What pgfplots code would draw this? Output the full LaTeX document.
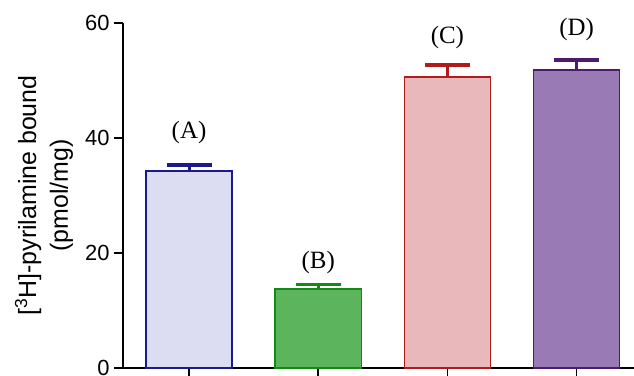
\documentclass[border=0pt]{standalone}
\usepackage{pgfplots}
\pgfplotsset{compat=1.18}
\usepackage{fontspec}
\setmainfont{Liberation Sans}
\newfontfamily\tnr{Liberation Serif}
\definecolor{aedge}{HTML}{1A1A8C}
\definecolor{afill}{HTML}{DCDCF2}
\definecolor{bedge}{HTML}{138A13}
\definecolor{bfill}{HTML}{5CB45C}
\definecolor{cedge}{HTML}{B01C1C}
\definecolor{cfill}{HTML}{E8B8BB}
\definecolor{dedge}{HTML}{4D1A6E}
\definecolor{dfill}{HTML}{9A7AB5}
\begin{document}
\begin{tikzpicture}[x=1bp,y=1bp]
\path[use as bounding box] (0,0) rectangle (634,375);
\begin{axis}[
  at={(123bp,7bp)}, anchor=south west,
  scale only axis, width=511bp, height=345bp,
  xmin=-0.511, xmax=3.444, ymin=0, ymax=60,
  axis lines=left,
  axis line style={-, black, line width=1.5bp},
  tick align=outside,
  major tick length=9bp,
  tick style={black, line width=1.5bp},
  xtick={0,1,2,3}, xticklabels={},
  ytick={0,20,40,60},
  /pgf/number format/assume math mode=true,
  yticklabel style={font=\fontsize{22}{26}\selectfont, xshift=-1bp},
  ylabel={[\textsuperscript{3}H]-pyrilamine bound\\(pmol/mg)},
  ylabel style={font=\fontsize{25}{32}\selectfont, align=center, at={(axis description cs:-0.1546,0.5)}, anchor=center},
  ybar, bar width=0.666, bar shift=0pt,
  error bars/y dir=plus, error bars/y explicit,
  clip=false,
]
\addplot[draw=aedge, fill=afill, line width=1.5bp,
  error bars/error bar style={aedge, line width=3bp},
  error bars/error mark options={rotate=90, mark size=22.5bp, line width=3.5bp, aedge}]
  coordinates {(0,34.3) +- (0,1.0)};
\addplot[draw=bedge, fill=bfill, line width=1.5bp,
  error bars/error bar style={bedge, line width=3bp},
  error bars/error mark options={rotate=90, mark size=22.5bp, line width=3.5bp, bedge}]
  coordinates {(1,13.7) +- (0,0.8)};
\addplot[draw=cedge, fill=cfill, line width=1.5bp,
  error bars/error bar style={cedge, line width=3bp},
  error bars/error mark options={rotate=90, mark size=22.5bp, line width=3.5bp, cedge}]
  coordinates {(2,50.6) +- (0,2.1)};
\addplot[draw=dedge, fill=dfill, line width=1.5bp,
  error bars/error bar style={dedge, line width=3bp},
  error bars/error mark options={rotate=90, mark size=22.5bp, line width=3.5bp, dedge}]
  coordinates {(3,51.8) +- (0,1.8)};
\node[font=\tnr\fontsize{25}{29}\selectfont] at (axis cs:0,41.0) {(A)};
\node[font=\tnr\fontsize{25}{29}\selectfont] at (axis cs:1,18.3) {(B)};
\node[font=\tnr\fontsize{25}{29}\selectfont] at (axis cs:2,57.4) {(C)};
\node[font=\tnr\fontsize{25}{29}\selectfont] at (axis cs:3,58.8) {(D)};
\end{axis}
\end{tikzpicture}
\end{document}
